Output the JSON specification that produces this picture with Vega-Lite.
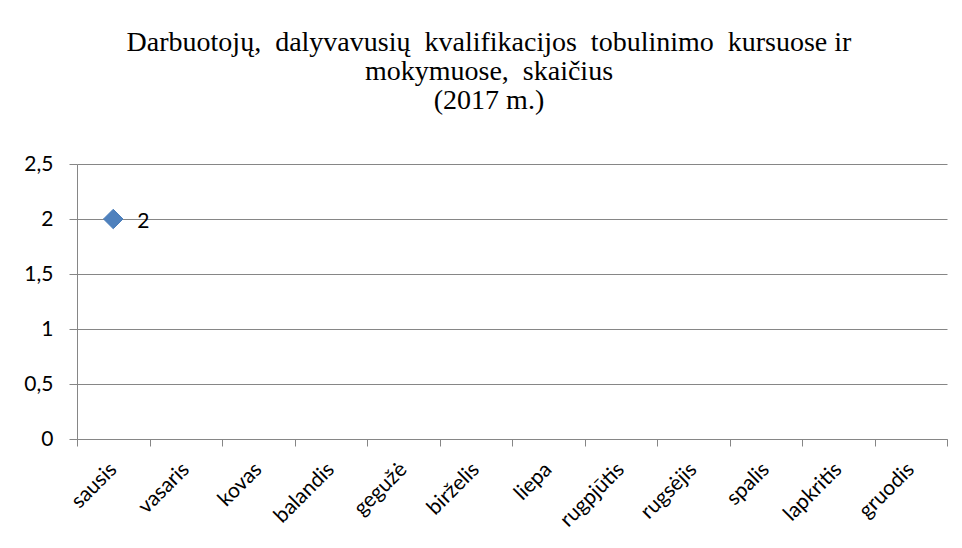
{
  "$schema": "https://vega.github.io/schema/vega-lite/v6.json",
  "width": 870,
  "height": 275,
  "autosize": "none",
  "padding": {"left": 77, "top": 164, "right": 15, "bottom": 109},
  "background": "white",
  "title": {
    "text": ["Darbuotojų,\u00a0 dalyvavusių\u00a0 kvalifikacijos\u00a0 tobulinimo\u00a0 kursuose ir", "mokymuose,\u00a0 skaičius", "(2017 m.)"],
    "font": "Liberation Serif",
    "fontSize": 28,
    "fontWeight": "normal",
    "color": "black",
    "lineHeight": 29,
    "anchor": "middle",
    "frame": "group",
    "offset": 38,
    "dx": -23
  },
  "data": {
    "values": [
      {"month": "sausis", "value": 2}
    ]
  },
  "encoding": {
    "x": {
      "field": "month",
      "type": "nominal",
      "sort": null,
      "scale": {"domain": ["sausis", "vasaris", "kovas", "balandis", "gegužė", "birželis", "liepa", "rugpjūtis", "rugsėjis", "spalis", "lapkritis", "gruodis"], "paddingInner": 0, "paddingOuter": 0},
      "axis": {
        "title": null,
        "labelAngle": -45,
        "labelAlign": "right",
        "labelBaseline": "middle",
        "labelPadding": 20,
        "labelFont": "Lato",
        "labelFontSize": 21,
        "labelColor": "black",
        "tickBand": "extent",
        "tickSize": 7,
        "tickColor": "#868686",
        "domainColor": "#868686",
        "grid": false
      }
    },
    "y": {
      "field": "value",
      "type": "quantitative",
      "scale": {"domain": [0, 2.5], "nice": false},
      "axis": {
        "title": null,
        "values": [0, 0.5, 1, 1.5, 2, 2.5],
        "labelExpr": "replace(format(datum.value, '~g'), '.', ',')",
        "labelFont": "Lato",
        "labelFontSize": 21,
        "labelColor": "black",
        "labelPadding": 16,
        "tickSize": 8,
        "tickColor": "#868686",
        "domainColor": "#868686",
        "gridColor": "#868686",
        "gridWidth": 1
      }
    }
  },
  "layer": [
    {
      "mark": {"type": "point", "shape": "diamond", "filled": true, "size": 380, "color": "#4F81BD", "stroke": "#4A7EBB", "strokeWidth": 1, "opacity": 1}
    },
    {
      "mark": {"type": "text", "align": "left", "baseline": "middle", "dx": 24, "dy": 3, "font": "Lato", "fontSize": 21, "color": "black"},
      "encoding": {"text": {"field": "value", "type": "quantitative"}}
    }
  ],
  "config": {"view": {"stroke": null}}
}
